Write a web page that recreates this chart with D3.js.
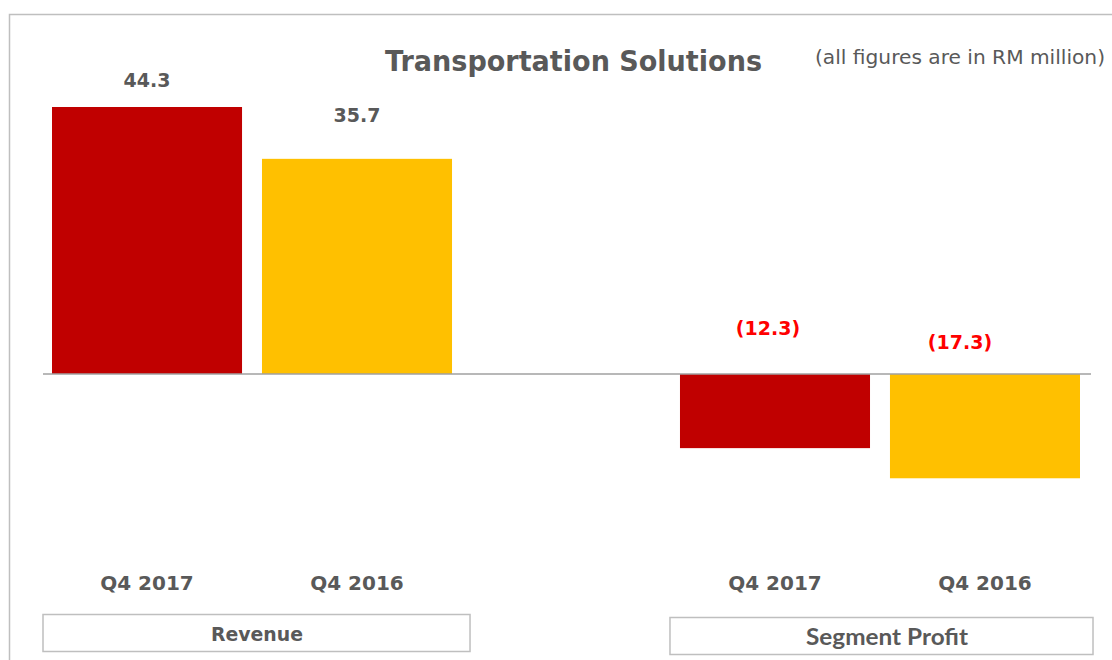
<!DOCTYPE html>
<html>
<head>
<meta charset="utf-8">
<script src="https://cdn.jsdelivr.net/npm/d3@7"></script>
<style>
  body { margin: 0; background: #fff; }
  svg { display: block; }
</style>
</head>
<body>
<svg width="1112" height="660"></svg>
<script>
// chart data
var groups = ['Revenue', 'Segment Profit'];
var periods = ['Q4 2017', 'Q4 2016'];
var values = [
  [44.3, 35.7],    // Revenue
  [-12.3, -17.3]   // Segment Profit
];
var valueLabels = [['44.3', '35.7'], ['(12.3)', '(17.3)']];

// label nudges (hand placed in the original slide)
var labelLift = [[27, 44], [46, 32]];
var labelShift = [[0, 0], [-7, -25]];

var color = {
  Q42017: '#C00000',
  Q42016: '#FFC000',
  text: '#595959',
  neg: '#FF0000',
  frame: '#BFBFBF',
  axis: '#A0A0A0'
};
var barColors = [color.Q42017, color.Q42016];

var svg = d3.select('svg');

// outer frame, runs past the right and bottom edges
svg.append('rect')
  .attr('x', 9.5).attr('y', 14.5)
  .attr('width', 1200).attr('height', 700)
  .attr('fill', 'none').attr('stroke', color.frame).attr('stroke-width', 1.5);

var y = d3.scaleLinear().domain([0, 44.3]).range([374, 107]);

var x0 = d3.scaleBand().domain(groups).range([52, 1080]).paddingInner(0.363).paddingOuter(0);
var x1 = d3.scaleBand().domain(periods).range([0, x0.bandwidth()]).paddingInner(0.095).paddingOuter(0);

var rows = [];
groups.forEach(function(g, gi) {
  periods.forEach(function(p, pi) {
    rows.push({ g: g, p: p, gi: gi, pi: pi, v: values[gi][pi], label: valueLabels[gi][pi] });
  });
});

// bars
svg.append('g').selectAll('rect').data(rows).enter().append('rect')
  .attr('x', function(d) { return x0(d.g) + x1(d.p); })
  .attr('y', function(d) { return Math.min(y(d.v), y(0)); })
  .attr('width', x1.bandwidth())
  .attr('height', function(d) { return Math.abs(y(d.v) - y(0)); })
  .attr('fill', function(d) { return barColors[d.pi]; });

// zero line
svg.append('line')
  .attr('x1', 43).attr('x2', 1091)
  .attr('y1', y(0)).attr('y2', y(0))
  .attr('stroke', color.axis).attr('stroke-width', 1.6);

// value labels
svg.append('g').selectAll('text').data(rows).enter().append('text')
  .attr('x', function(d) { return x0(d.g) + x1(d.p) + x1.bandwidth() / 2 + labelShift[d.gi][d.pi]; })
  .attr('y', function(d) { return (d.v >= 0 ? y(d.v) : y(0)) - labelLift[d.gi][d.pi]; })
  .attr('dy', '0.36em')
  .attr('text-anchor', 'middle')
  .attr('font-family', 'DejaVu Sans, Verdana, sans-serif')
  .attr('font-weight', 'bold')
  .attr('font-size', 19)
  .attr('fill', function(d) { return d.v < 0 ? color.neg : color.text; })
  .text(function(d) { return d.label; });

// period labels
svg.append('g').selectAll('text').data(rows).enter().append('text')
  .attr('x', function(d) { return x0(d.g) + x1(d.p) + x1.bandwidth() / 2; })
  .attr('y', 583)
  .attr('dy', '0.36em')
  .attr('text-anchor', 'middle')
  .attr('font-family', 'DejaVu Sans, Verdana, sans-serif')
  .attr('font-weight', 'bold')
  .attr('font-size', 20)
  .attr('fill', color.text)
  .text(function(d) { return d.p; });

// group boxes
var box = svg.append('g').selectAll('g').data(groups).enter().append('g');
box.append('rect')
  .attr('x', function(d, i) { return x0(d) - (i === 0 ? 9 : 10); })
  .attr('y', function(d, i) { return i === 0 ? 614.5 : 617.5; })
  .attr('width', function(d, i) { return x0.bandwidth() + (i === 0 ? 27 : 23); })
  .attr('height', 37)
  .attr('fill', '#fff').attr('stroke', color.frame).attr('stroke-width', 1.5);
box.append('text')
  .attr('x', function(d, i) { return x0(d) + x0.bandwidth() / 2 + (i === 0 ? 5 : 7); })
  .attr('y', function(d, i) { return i === 0 ? 634 : 637; })
  .attr('dy', '0.36em')
  .attr('text-anchor', 'middle')
  .attr('font-family', function(d, i) { return i === 0 ? 'DejaVu Sans, Verdana, sans-serif' : 'Lato, Open Sans, sans-serif'; })
  .attr('font-weight', 'bold')
  .attr('font-size', function(d, i) { return i === 0 ? 19 : 23; })
  .attr('textLength', function(d, i) { return i === 0 ? 92 : 162; })
  .attr('lengthAdjust', 'spacingAndGlyphs')
  .attr('fill', color.text)
  .text(function(d) { return d; });

// title and note
svg.append('text')
  .attr('x', 385).attr('y', 61).attr('dy', '0.36em')
  .attr('font-family', 'DejaVu Sans, Verdana, sans-serif')
  .attr('font-weight', 'bold')
  .attr('font-size', 28)
  .attr('textLength', 377).attr('lengthAdjust', 'spacingAndGlyphs')
  .attr('fill', color.text)
  .text('Transportation Solutions');

svg.append('text')
  .attr('x', 815).attr('y', 57).attr('dy', '0.36em')
  .attr('font-family', 'DejaVu Sans, Verdana, sans-serif')
  .attr('font-size', 20)
  .attr('textLength', 290).attr('lengthAdjust', 'spacingAndGlyphs')
  .attr('fill', color.text)
  .text('(all figures are in RM million)');
</script>
</body>
</html>
